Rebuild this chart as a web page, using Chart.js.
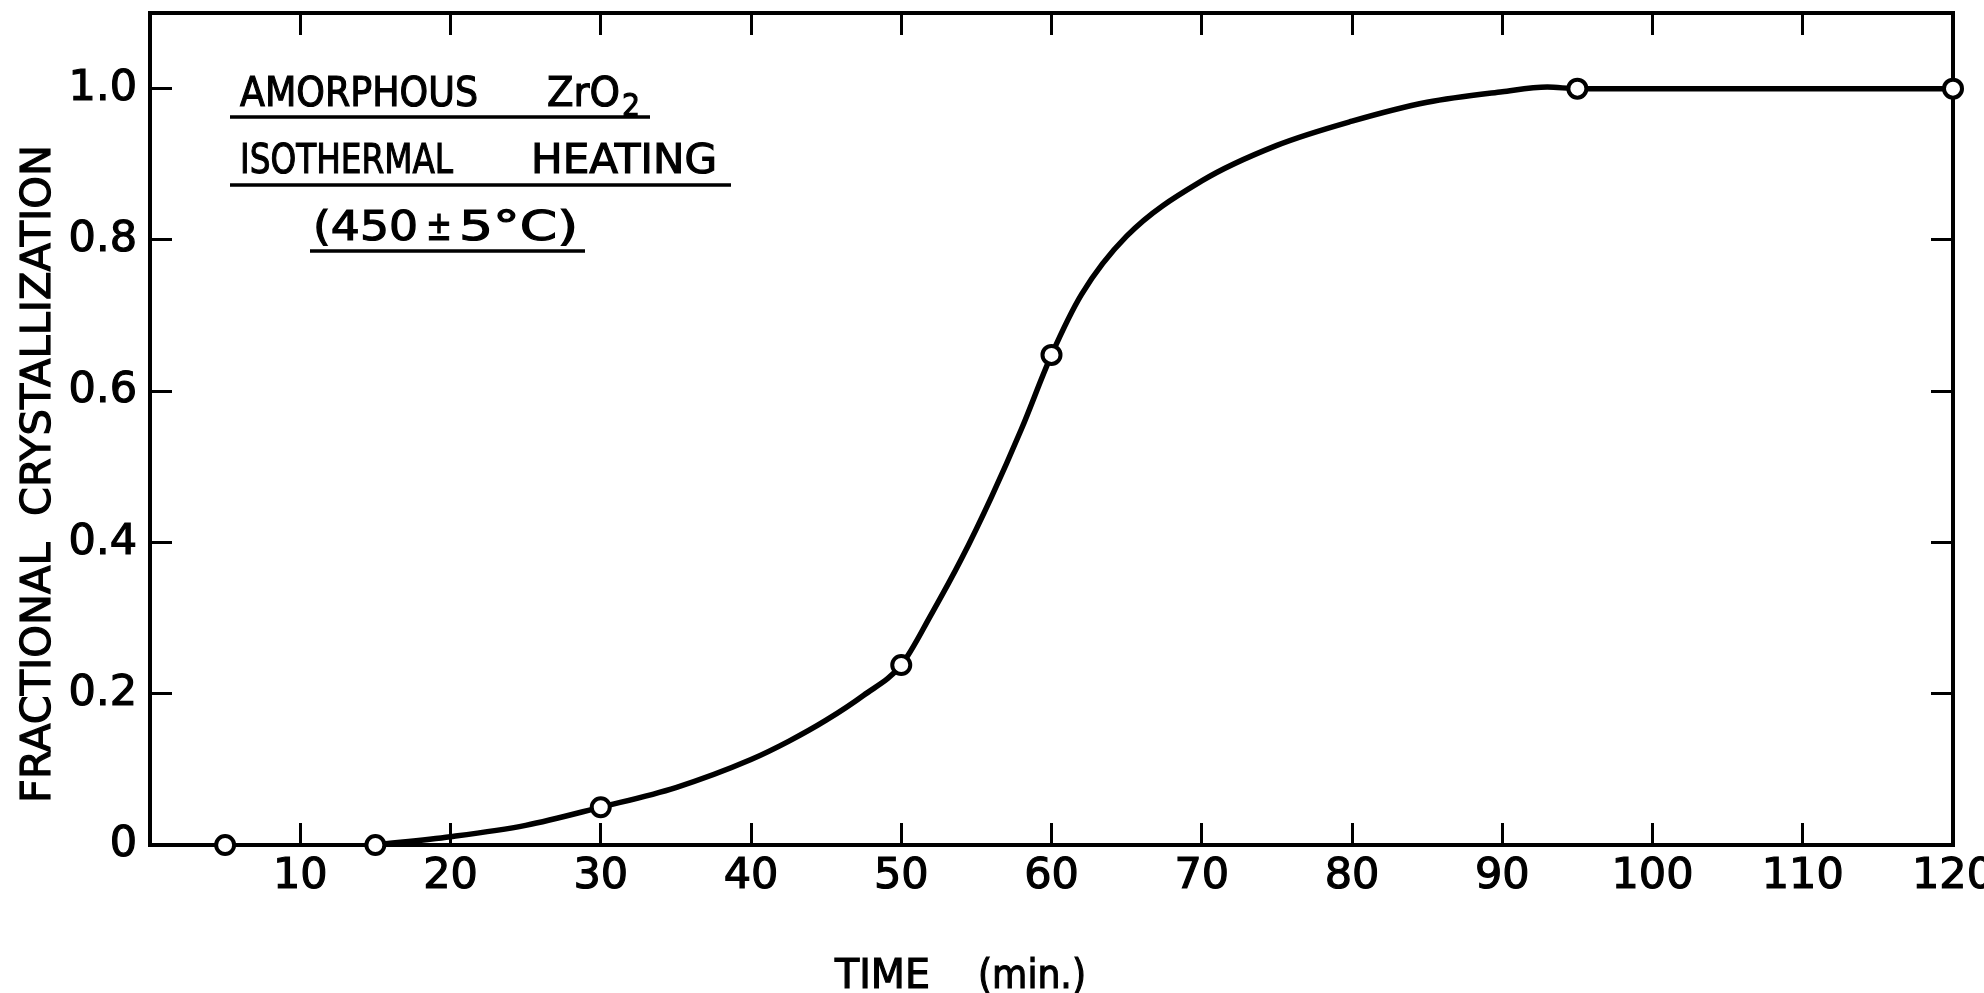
<!DOCTYPE html>
<html>
<head>
<meta charset="utf-8">
<title>Fractional crystallization of amorphous ZrO2</title>
<script src="https://cdn.jsdelivr.net/npm/chart.js@4/dist/chart.umd.min.js"></script>
<style>
  html, body { margin: 0; padding: 0; background: #fff; overflow: hidden; }
  canvas { display: block; }
</style>
</head>
<body>
<canvas id="crystChart" width="1984" height="993"></canvas>
<script>
// measured points (open circles)
const measuredTime = [5, 15, 30, 50, 60, 95, 120];
const measuredFraction = [0, 0, 0.05, 0.238, 0.648, 1.0, 1.0];

// hand drawn curve
const curveTime = [15, 20, 25, 30, 35, 40, 42.5, 45, 47.5, 50, 52, 54, 56, 58, 60, 62, 65, 70, 75, 80, 85, 90, 93, 95, 100, 110, 120];
const curveFraction = [0, 0.011, 0.026, 0.05, 0.076, 0.113, 0.137, 0.165, 0.198, 0.238, 0.305, 0.378, 0.46, 0.55, 0.648, 0.728, 0.805, 0.878, 0.925, 0.957, 0.982, 0.996, 1.002, 1.0, 1.0, 1.0, 1.0];

const xTickValues = [10, 20, 30, 40, 50, 60, 70, 80, 90, 100, 110, 120];
const yTickValues = [0, 0.2, 0.4, 0.6, 0.8, 1.0];
const yTickLabels = ["0", "0.2", "0.4", "0.6", "0.8", "1.0"];

const FONT = "DejaVu Sans";
const INK = "#000";

function toXY(xs, ys) {
  return xs.map((x, i) => ({ x: x, y: ys[i] }));
}

function fixedSize(prop, size) {
  return function (scale) {
    scale[prop] = size;
    scale.paddingLeft = 0;
    scale.paddingRight = 0;
    scale.paddingTop = 0;
    scale.paddingBottom = 0;
  };
}

function setTicks(values) {
  return function (scale) {
    scale.ticks = values.map((v) => ({ value: v }));
  };
}

// draw a word squeezed/stretched to the lettering width of the original
function fitText(ctx, text, x, y, width) {
  const w = ctx.measureText(text).width;
  ctx.save();
  ctx.translate(x, y);
  ctx.scale(width / w, 1);
  ctx.fillText(text, 0, 0);
  ctx.strokeText(text, 0, 0);
  ctx.restore();
}

const frameGrid = {
  drawOnChartArea: false,
  drawTicks: true,
  tickLength: -22,
  color: INK,
  lineWidth: 3,
};
const frameBorder = { display: true, color: INK, width: 4 };

// text block, titles
const annotations = {
  id: "annotations",
  afterDraw(chart) {
    const ctx = chart.ctx;
    ctx.save();
    ctx.fillStyle = INK;
    ctx.strokeStyle = INK;
    ctx.lineWidth = 1.2;
    ctx.textBaseline = "alphabetic";
    ctx.textAlign = "left";
    ctx.font = `41px "${FONT}"`;

    fitText(ctx, "AMORPHOUS", 240, 106, 238);
    fitText(ctx, "ZrO", 547, 106, 73);
    fitText(ctx, "ISOTHERMAL", 240, 173, 213);
    fitText(ctx, "HEATING", 531, 173, 186);
    fitText(ctx, "(450", 313, 240, 105);
    fitText(ctx, "\u00b1", 426, 240, 26);
    fitText(ctx, "5\u00b0C)", 459, 240, 119);
    ctx.font = `32px "${FONT}"`;
    fitText(ctx, "2", 622, 116, 18);

    ctx.lineWidth = 3.5;
    ctx.beginPath();
    ctx.moveTo(230, 117); ctx.lineTo(650, 117);
    ctx.moveTo(230, 185); ctx.lineTo(731, 185);
    ctx.moveTo(310, 251); ctx.lineTo(585, 251);
    ctx.stroke();

    // axis titles
    ctx.lineWidth = 1.2;
    ctx.font = `40px "${FONT}"`;
    fitText(ctx, "TIME", 835, 988, 95);
    fitText(ctx, "(min.)", 978, 988, 108);

    ctx.translate(50, 474);
    ctx.rotate(-Math.PI / 2);
    ctx.font = `40px "${FONT}"`;
    fitText(ctx, "FRACTIONAL  CRYSTALLIZATION", -329, 0, 658);
    ctx.restore();
  },
};

function createCrystallizationChart() {
  const ctx = document.getElementById("crystChart").getContext("2d");

  new Chart(ctx, {
    type: "scatter",
    data: {
      datasets: [
        {
          label: "measured",
          data: toXY(measuredTime, measuredFraction),
          showLine: false,
          pointRadius: 9,
          pointBorderWidth: 4,
          pointBackgroundColor: "#fff",
          pointBorderColor: INK,
          clip: false,
          order: 0,
        },
        {
          label: "curve",
          data: toXY(curveTime, curveFraction),
          showLine: true,
          borderColor: INK,
          borderWidth: 5.5,
          pointRadius: 0,
          cubicInterpolationMode: "monotone",
          fill: false,
          order: 1,
        },
      ],
    },
    options: {
      responsive: false,
      devicePixelRatio: 1,
      animation: false,
      layout: { padding: 0 },
      plugins: {
        legend: { display: false },
        tooltip: { enabled: false },
      },
      scales: {
        x: {
          type: "linear",
          position: "bottom",
          min: 0,
          max: 120,
          afterBuildTicks: setTicks(xTickValues),
          afterFit: fixedSize("height", 148),
          grid: frameGrid,
          border: frameBorder,
          ticks: {
            color: INK,
            font: { family: FONT, size: 43 },
            textStrokeColor: INK,
            textStrokeWidth: 1.2,
            padding: 28,
            maxRotation: 0,
          },
        },
        x2: {
          type: "linear",
          position: "top",
          min: 0,
          max: 120,
          afterBuildTicks: setTicks(xTickValues),
          afterFit: fixedSize("height", 12),
          grid: frameGrid,
          border: frameBorder,
          ticks: { display: false },
        },
        y: {
          type: "linear",
          position: "left",
          min: 0,
          max: 1.1,
          afterBuildTicks: setTicks(yTickValues),
          afterFit: fixedSize("width", 150),
          grid: frameGrid,
          border: frameBorder,
          ticks: {
            color: INK,
            font: { family: FONT, size: 43 },
            textStrokeColor: INK,
            textStrokeWidth: 1.2,
            padding: 35,
            callback: (value, i) => yTickLabels[i],
          },
        },
        y2: {
          type: "linear",
          position: "right",
          min: 0,
          max: 1.1,
          afterBuildTicks: setTicks(yTickValues),
          afterFit: fixedSize("width", 31),
          grid: frameGrid,
          border: frameBorder,
          ticks: { display: false },
        },
      },
    },
    plugins: [annotations],
  });
}

createCrystallizationChart();
</script>
</body>
</html>
